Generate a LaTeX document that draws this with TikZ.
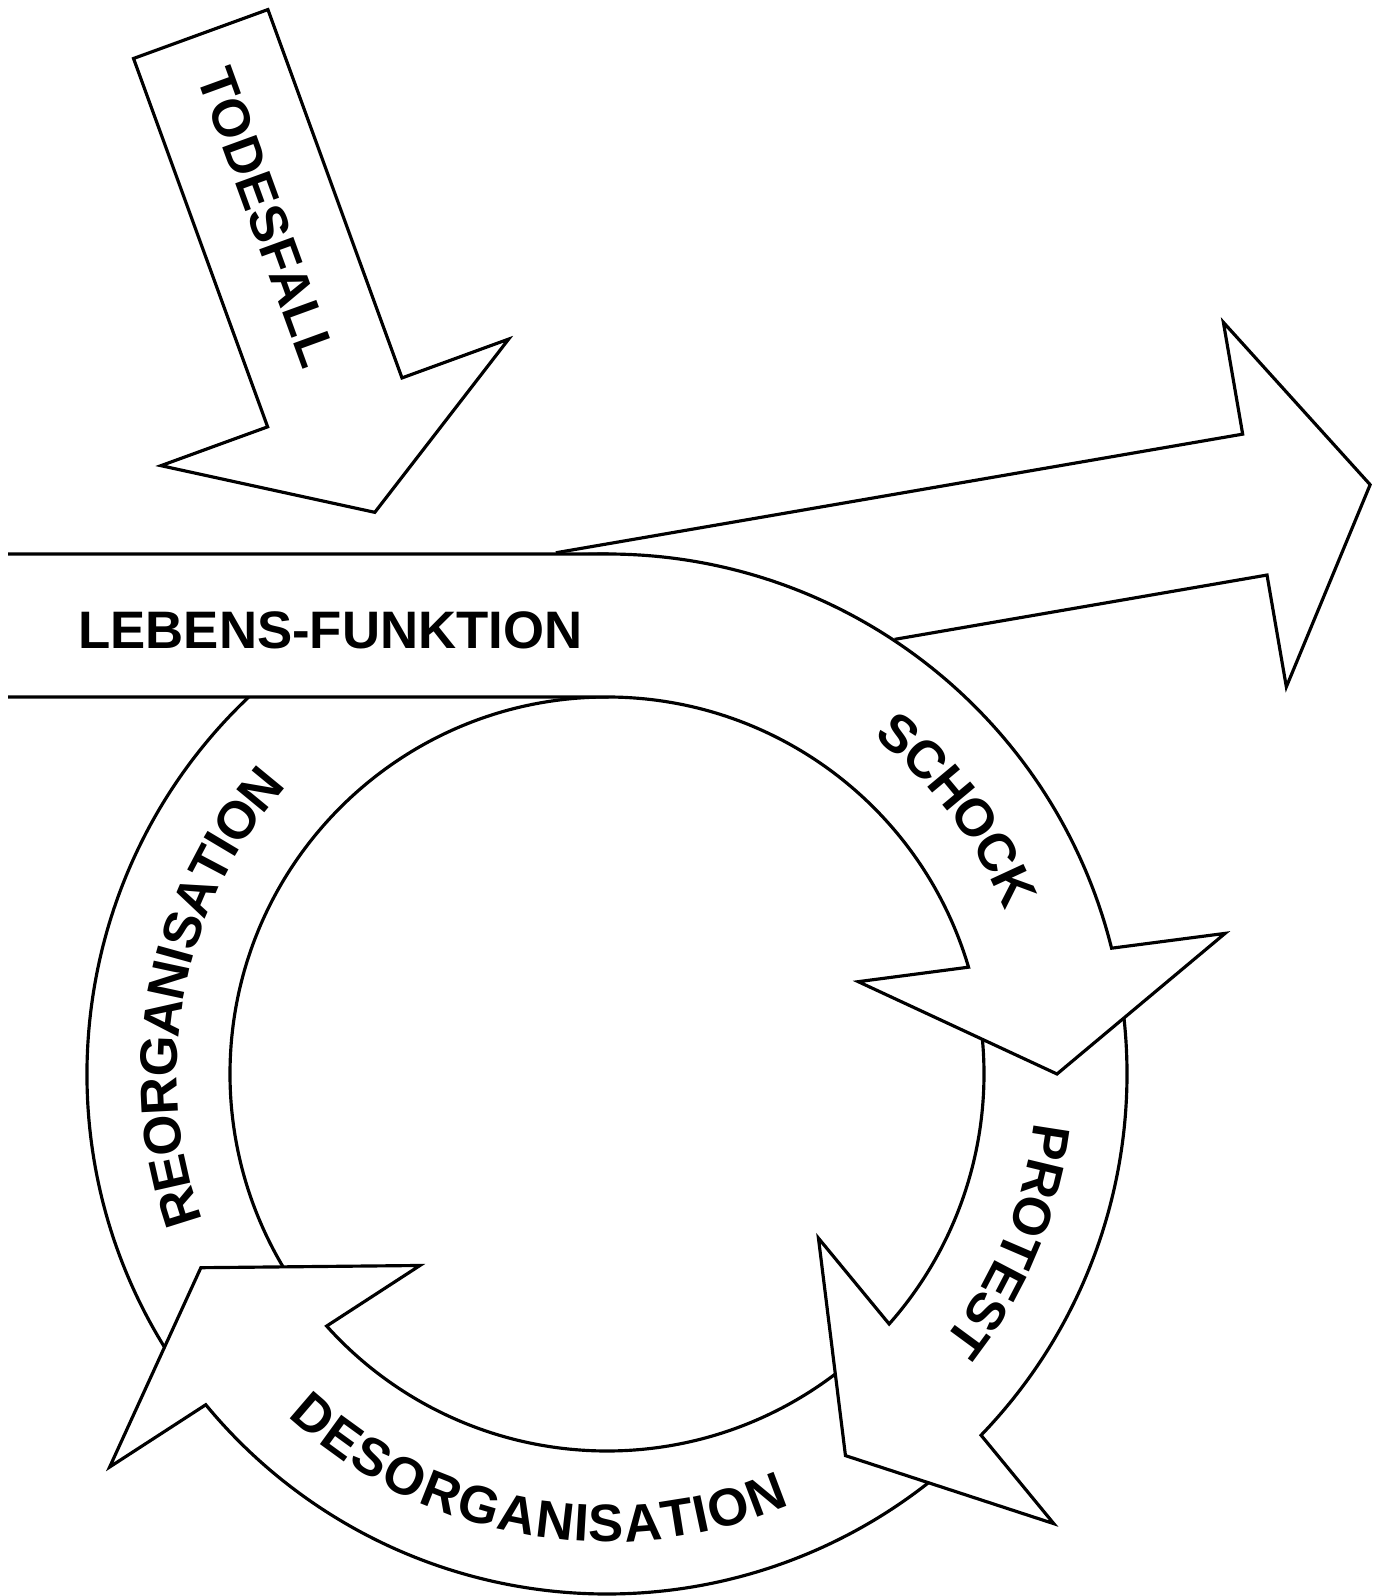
\documentclass[tikz,border=0pt]{standalone}
\usepackage{fontspec}
\setmainfont{Liberation Sans}
\usetikzlibrary{calc,decorations.text}
\newcommand\lblfont{\bfseries\fontsize{15pt}{18pt}\selectfont}

\begin{document}
\begin{tikzpicture}[x=0.01cm,y=0.01cm]
	\tikzstyle{every node}=[inner sep=0pt, font=\lblfont]
	\tikzstyle{piece}=[draw, fill=white, line width=0.9pt]
	\tikzstyle{ringtext}=[decorate, decoration={text along path, text align=center, raise=-0.19cm}]
	\useasboundingbox (0,0) rectangle (1383,1596);
	\coordinate (C) at (607,522);
	% reorganisation
	\draw[piece] ($(C)+(-144:520)$) arc[start angle=-144, end angle=-270, radius=520] -- ($(C)+(90:377)$) arc[start angle=90, end angle=216, radius=377] -- cycle;
	% desorganisation
	\draw[piece] ($(C)+(-48:520)$) arc[start angle=-48, end angle=-140.5, radius=520] -- ($(C)+(-139.5:450)+(-147:185)$) -- ($(C)+(-154.5:450)$) -- ($(C)+(-139.5:450)+(33:185)$) -- ($(C)+(-138.04:377)$) arc[start angle=-138.04, end angle=-48, radius=377] -- cycle;
	% protest
	\draw[piece] ($(C)+(10:520)$) arc[start angle=10, end angle=-44, radius=520] -- ($(C)+(-43:450)+(-50.5:185)$) -- ($(C)+(-58:450)$) -- ($(C)+(-43:450)+(129.5:185)$) -- ($(C)+(-41.54:377)$) arc[start angle=-41.54, end angle=10, radius=377] -- cycle;
	% lebens-funktion and schock
	\draw[piece] (8,1042) -- (607,1042) arc[start angle=90, end angle=14, radius=520] -- ($(C)+(15:450)+(7.5:185)$) -- ($(C)+(0:450)$) -- ($(C)+(15:450)+(187.5:185)$) -- ($(C)+(16.46:377)$) arc[start angle=16.46, end angle=90, radius=377] -- (8,899);
	\begin{scope}[shift={(1254.85,1091.4)}, rotate=9.8]
	\draw[line width=0.9pt] (-697,71.5) -- (0,71.5) -- (0,185) -- (117,0) -- (0,-185) -- (0,-71.5) -- (-378,-71.5);
	\end{scope}
	% todesfall
	\begin{scope}[shift={(334.8,1193.6)}, rotate=-70]
	\draw[piece] (-392,71.5) -- (0,71.5) -- (0,185) -- (117,0) -- (0,-185) -- (0,-71.5) -- (-392,-71.5) -- cycle;
	\node[rotate=-70] (todesfall) at (-197,0) {TODESFALL};
	\end{scope}
	\node[anchor=base] (lebens) at (330.4,947) {LEBENS-FUNKTION};
	% ring labels
	\path[ringtext, decoration={text={|\lblfont|SCHOCK}}] ($(C)+(62:449)$) arc[start angle=62, end angle=12, radius=449];
	\path[ringtext, decoration={text={|\lblfont|PROTEST}}] ($(C)+(2.5:449)$) arc[start angle=2.5, end angle=-47.5, radius=449];
	\path[ringtext, decoration={text={|\lblfont|DESORGANISATION}}] ($(C)+(-155:449)$) arc[start angle=-155, end angle=-45, radius=449];
	\path[ringtext, decoration={text={|\lblfont|REORGANISATION}}] ($(C)+(214:449)$) arc[start angle=214, end angle=124, radius=449];
\end{tikzpicture}
\end{document}
